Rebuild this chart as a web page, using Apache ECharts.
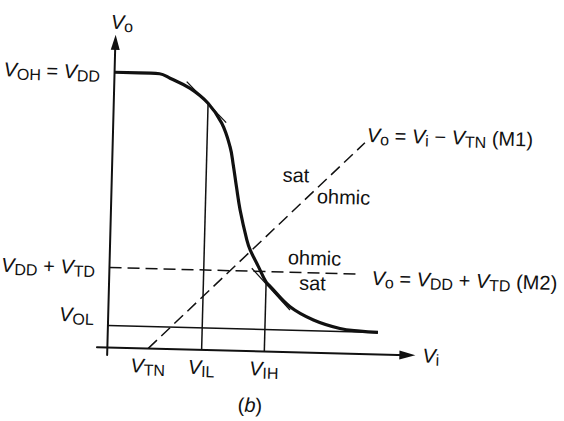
<!DOCTYPE html>
<html>
<head>
<meta charset="utf-8">
<script src="https://cdn.jsdelivr.net/npm/echarts@6/dist/echarts.min.js"></script>
<style>
  html, body { margin: 0; padding: 0; background: #fff; overflow: hidden; }
  /* the printed figure sits slightly skewed on the page */
  #chart { width: 564px; height: 421px; transform: rotate(1.5deg); transform-origin: 282px 210.5px; }
</style>
</head>
<body>
<div id="chart"></div>
<script>
// Characteristic levels of the inverter (arbitrary voltage units)
const V_TN = 1.36;
const V_IL = 3.14;
const V_IH = 5.23;
const V_OH = 9.17;
const V_OL = 0.73;
const V_DD_TD = 2.66;

// Voltage transfer characteristic Vo(Vi)
const vtcIn  = [0, 1.2, 1.5, 1.85, 2.53, 3.14, 3.61, 3.91, 4.03, 4.16, 4.30, 4.55, 4.67, 4.96, 5.23, 5.36, 6.05, 6.84, 7.73, 8.40, 9.00];
const vtcOut = [9.17, 9.17, 9.16, 9.02, 8.70, 8.22, 7.57, 6.79, 6.20, 5.45, 4.69, 3.70, 3.37, 2.82, 2.31, 2.18, 1.51, 1.09, 0.83, 0.76, 0.73];

// Output where the V_IL / V_IH drop lines meet the curve
const vilOut = 8.22;
const vihOut = 2.31;

// Unity-slope tangents at V_IL and V_IH
const tanIL = [[2.41, 8.92], [3.76, 7.59]];
const tanIH = [[4.74, 2.76], [6.05, 1.40]];

// Region boundaries: Vo = Vi - V_TN (M1) and Vo = V_DD + V_TD (M2)
const m1End = [8.40, 7.04];
const m2End = 8.25;
const volEnd = 9.00;

// Tick labels
const xTicks = [V_TN, V_IL, V_IH];
const xTickLabels = ['{v|V}{s|TN}', '{v|V}{s|IL}', '{v|V}{s|IH}'];
const yTicks = [V_OL, V_DD_TD, V_OH];
const yTickLabels = ['{vr|V}{sr|OL}', '{v|V}{s|DD}{t| + }{v|V}{s|TD}', '{v|V}{s|OH}{t| = }{v|V}{s|DD}'];

// Axis extents (arrow heads extend past max)
const X_MIN = -0.35, X_MAX = 10.0;
const Y_MIN = -0.26, Y_MAX = 10.17;

// Layout: pixel position of the origin and pixels per unit
const ORIGIN = [111.1, 351.8];
const UNIT = 30;

const TILT = 1.5 * Math.PI / 180;
const CX = 282, CY = 210.5;
// page point -> point on the (rotated) chart canvas
function onCanvas(x, y) {
  const c = Math.cos(TILT), s = Math.sin(TILT);
  const dx = x - CX, dy = y - CY;
  return [CX + dx * c + dy * s, CY - dx * s + dy * c];
}

const FONT = "'Liberation Sans', Arial, Helvetica, sans-serif";
const INK = '#111';
const rich = {
  v:  { fontFamily: FONT, fontSize: 20, fontStyle: 'italic', color: INK, verticalAlign: 'middle' },
  s:  { fontFamily: FONT, fontSize: 16, color: INK, padding: [9, 0, 0, 0], verticalAlign: 'middle' },
  t:  { fontFamily: FONT, fontSize: 20, color: INK, verticalAlign: 'middle' },
  i:  { fontFamily: FONT, fontSize: 20, fontStyle: 'italic', color: INK, verticalAlign: 'middle' },
  vr: { fontFamily: FONT, fontSize: 20, fontStyle: 'italic', color: INK, padding: [0, 0, 20, 0], verticalAlign: 'middle' },
  sr: { fontFamily: FONT, fontSize: 16, color: INK, padding: [9, 0, 20, 0], verticalAlign: 'middle' }
};

function plainText(px, py, text) {
  const p = onCanvas(px, py);
  return {
    type: 'text', x: p[0], y: p[1], silent: true,
    style: { text: text, fill: INK, font: '20px ' + FONT, textAlign: 'center', textVerticalAlign: 'middle' }
  };
}
function richText(px, py, text, align) {
  const p = onCanvas(px, py);
  return {
    type: 'text', x: p[0], y: p[1], silent: true,
    style: { text: text, rich: rich, fill: INK, font: '20px ' + FONT, textAlign: align, textVerticalAlign: 'middle' }
  };
}

function segment(points, width, dashed, z) {
  return {
    type: 'line', data: points, symbol: 'none', silent: true, z: z || 2,
    lineStyle: { color: INK, width: width, type: dashed ? [12, 6] : 'solid', cap: 'butt' }
  };
}

const chart = echarts.init(document.getElementById('chart'), null, { renderer: 'svg' });
chart.setOption({
  animation: false,
  backgroundColor: '#fff',
  grid: {
    left: ORIGIN[0] + X_MIN * UNIT,
    top: ORIGIN[1] - Y_MAX * UNIT,
    width: (X_MAX - X_MIN) * UNIT,
    height: (Y_MAX - Y_MIN) * UNIT,
    containLabel: false,
    outerBoundsMode: 'none'
  },
  xAxis: {
    type: 'value', min: X_MIN, max: X_MAX,
    axisLine: { onZero: true, symbol: ['none', 'triangle'], symbolSize: [9, 16], lineStyle: { color: INK, width: 2 } },
    axisTick: { show: false },
    splitLine: { show: false },
    axisLabel: {
      customValues: xTicks, margin: -3, rich: rich,
      formatter: function (v) { return xTickLabels[xTicks.indexOf(v)]; }
    },
    name: '{v|V}{s|i}', nameLocation: 'end', nameGap: 15,
    nameTextStyle: { rich: rich }
  },
  yAxis: {
    type: 'value', min: Y_MIN, max: Y_MAX,
    axisLine: { onZero: true, symbol: ['none', 'triangle'], symbolSize: [9, 15], lineStyle: { color: INK, width: 2 } },
    axisTick: { show: false },
    splitLine: { show: false },
    axisLabel: {
      customValues: yTicks, margin: 4, rich: rich,
      formatter: function (v) { return yTickLabels[yTicks.indexOf(v)]; }
    },
    name: '{v|V}{s|o}', nameLocation: 'end', nameGap: 8,
    nameTextStyle: { rich: rich, padding: [0, 0, 0, 12] }
  },
  series: [
    segment([[0, V_OL], [volEnd, V_OL]], 1.5),
    segment([[V_IL, 0], [V_IL, vilOut]], 1.5),
    segment([[V_IH, 0], [V_IH, vihOut]], 1.5),
    segment(tanIL, 1.3),
    segment(tanIH, 1.3),
    segment([[V_TN, 0], m1End], 1.5, true),
    segment([[0, V_DD_TD], [m2End, V_DD_TD]], 1.5, true),
    {
      type: 'line', z: 5, silent: true, symbol: 'none', smooth: 0.4,
      data: vtcIn.map(function (x, k) { return [x, vtcOut[k]]; }),
      lineStyle: { color: INK, width: 3.2 }
    }
  ],
  graphic: [
    richText(367, 135, '{v|V}{s|o}{t| = }{v|V}{s|i}{t| − }{v|V}{s|TN}{t| (M1)}', 'left'),
    richText(371.7, 278, '{v|V}{s|o}{t| = }{v|V}{s|DD}{t| + }{v|V}{s|TD}{t| (M2)}', 'left'),
    plainText(296, 175, 'sat'),
    plainText(343.5, 197, 'ohmic'),
    plainText(314.5, 258, 'ohmic'),
    plainText(312.5, 283, 'sat'),
    richText(250, 405, '{t|(}{i|b}{t|)}', 'center')
  ]
});
</script>
</body>
</html>
